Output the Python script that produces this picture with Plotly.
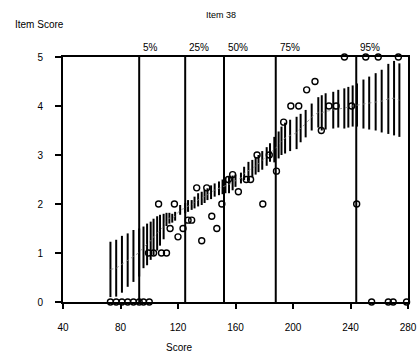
import plotly.graph_objects as go

# Confidence bars for the expected item score at each total score
bar_scores = [73, 77, 81, 85, 89, 93, 96, 98.5, 101, 103, 105.5, 107.5, 110, 112, 114, 116, 118,
              121.5, 125, 127, 129.5, 131.5, 134, 136.5, 138.5, 140.5, 143, 145.5, 148.5, 151, 153,
              155.5, 158, 160, 163.8, 166, 169, 171.7, 174, 176, 178.6, 181.7, 184, 187, 190, 192,
              194.5, 198, 202.5, 205.3, 208.8, 213, 217.6, 220, 222.7, 228, 231.5, 235.7, 238.5,
              241.5, 244.5, 249, 253, 257.5, 261.7, 266.3, 270.3, 274]
bar_low = [0.10, 0.11, 0.19, 0.31, 0.41, 0.52, 0.69, 0.75, 0.86, 0.95, 1.05, 1.15, 1.28, 1.55, 1.60, 1.62, 1.66,
           1.78, 1.81, 1.84, 1.88, 1.91, 1.95, 1.98, 2.02, 2.08, 2.10, 2.15, 2.18, 2.20, 2.22,
           2.22, 2.28, 2.35, 2.42, 2.49, 2.49, 2.55, 2.60, 2.65, 2.70, 2.78, 2.86, 2.85, 2.93, 3.00,
           3.03, 3.08, 3.12, 3.26, 3.36, 3.50, 3.56, 3.50, 3.52, 3.54, 3.56, 3.54, 3.56,
           3.58, 3.58, 3.54, 3.52, 3.50, 3.46, 3.43, 3.40, 3.37]
bar_high = [1.23, 1.27, 1.35, 1.40, 1.47, 1.50, 1.54, 1.60, 1.64, 1.70, 1.75, 1.78, 1.80, 1.82, 1.82, 1.80, 1.84,
            1.98, 2.02, 2.08, 2.08, 2.15, 2.22, 2.25, 2.29, 2.32, 2.38, 2.42, 2.46, 2.50, 2.53,
            2.56, 2.58, 2.60, 2.64, 2.76, 2.86, 2.90, 2.95, 3.00, 3.08, 3.16, 3.24, 3.37, 3.48, 3.58,
            3.66, 3.72, 3.78, 3.84, 3.92, 4.05, 4.18, 4.22, 4.26, 4.29, 4.33, 4.36, 4.39,
            4.42, 4.46, 4.54, 4.60, 4.67, 4.74, 4.86, 4.92, 4.87]

# Observed mean item score per score group
obs_scores = [73, 77, 81, 85, 89, 93, 96, 100,
              99.5, 103, 108.5, 112, 106.5, 117.5, 114.5, 120, 123.5, 127, 129.5,
              133, 140, 136.5, 143.5, 147, 150.5, 155, 158, 162, 167.5, 170.5,
              175, 183.5, 179, 188.5, 193.5, 198.5, 204, 209.5, 215.3, 219.7,
              225, 230, 240.8, 244.3, 235.8, 250.6, 259.3, 273.3,
              254.7, 266.3, 269.7, 279]
obs_values = [0, 0, 0, 0, 0, 0, 0, 0,
              1.0, 1.0, 1.0, 1.0, 2.0, 2.0, 1.5, 1.33, 1.5, 1.67, 1.67,
              2.33, 2.33, 1.25, 1.75, 1.5, 2.0, 2.5, 2.6, 2.25, 2.5, 2.5,
              3.0, 3.0, 2.0, 2.67, 3.67, 4.0, 4.0, 4.33, 4.5, 3.5,
              4.0, 4.0, 4.0, 2.0, 5.0, 5.0, 5.0, 5.0,
              0, 0, 0, 0]

# Score percentiles
pct_labels = ["5%", "25%", "50%", "75%", "95%"]
pct_scores = [93, 125, 152, 188, 244]

x_ticks = [40, 80, 120, 160, 200, 240, 280]
y_ticks = [0, 1, 2, 3, 4, 5]

FONT = "Liberation Sans, Arial, sans-serif"

fig = go.Figure()

# percentile reference lines spanning the full item-score range
px, py = [], []
for s in pct_scores:
    px += [s, s, None]
    py += [y_ticks[0], y_ticks[-1], None]
fig.add_trace(go.Scatter(x=px, y=py, mode="lines",
                         line=dict(color="black", width=2), hoverinfo="skip"))

# vertical confidence bars
bx, by = [], []
for s, lo, hi in zip(bar_scores, bar_low, bar_high):
    bx += [s, s, None]
    by += [lo, hi, None]
fig.add_trace(go.Scatter(x=bx, y=by, mode="lines",
                         line=dict(color="black", width=2), hoverinfo="skip"))

# faint expected-score curve through the bar midpoints
mid = [(lo + hi) / 2 for lo, hi in zip(bar_low, bar_high)]
fig.add_trace(go.Scatter(x=bar_scores, y=mid, mode="lines",
                         line=dict(color="#888888", width=0.8, dash="dot"), hoverinfo="skip"))

# observed scores
fig.add_trace(go.Scatter(x=obs_scores, y=obs_values, mode="markers", cliponaxis=False,
                         marker=dict(symbol="circle-open", size=6, color="black",
                                     line=dict(width=1.4, color="black"))))

for lab, s in zip(pct_labels, pct_scores):
    fig.add_annotation(x=s, y=y_ticks[-1], text=lab, showarrow=False,
                       xanchor="left", yanchor="bottom", xshift=2, yshift=2,
                       font=dict(family=FONT, size=10, color="black"))

fig.add_annotation(xref="paper", yref="paper", x=0.458, y=1.171, text="Item 38",
                   xanchor="center", yanchor="middle",
                   showarrow=False, font=dict(family=FONT, size=9, color="black"))
fig.add_annotation(xref="paper", yref="paper", x=-0.067, y=1.131, text="Item Score",
                   xanchor="center", yanchor="middle",
                   showarrow=False, font=dict(family=FONT, size=10, color="black"))
fig.add_annotation(xref="paper", yref="paper", x=0.339, y=-0.184, text="Score",
                   xanchor="center", yanchor="middle",
                   showarrow=False, font=dict(family=FONT, size=10, color="black"))

fig.update_layout(
    width=419, height=354,
    margin=dict(l=63, r=11, t=57, b=52, autoexpand=False),
    paper_bgcolor="white", plot_bgcolor="white",
    showlegend=False,
    font=dict(family=FONT, size=10, color="black"),
    xaxis=dict(range=[x_ticks[0], x_ticks[-1]], tickvals=x_ticks, ticks="outside",
               ticklen=5, tickwidth=1.5, tickcolor="black", showline=True, linewidth=2,
               linecolor="black", mirror=True, showgrid=False, zeroline=False,
               automargin=False, ticklabelstandoff=10, tickfont=dict(size=10)),
    yaxis=dict(range=[y_ticks[0], y_ticks[-1]], tickvals=y_ticks, ticks="outside",
               ticklen=6, tickwidth=1.5, tickcolor="black", showline=True, linewidth=2,
               linecolor="black", mirror=True, showgrid=False, zeroline=False,
               automargin=False, ticklabelstandoff=10, tickfont=dict(size=10)),
)

fig.write_html("out.html")
